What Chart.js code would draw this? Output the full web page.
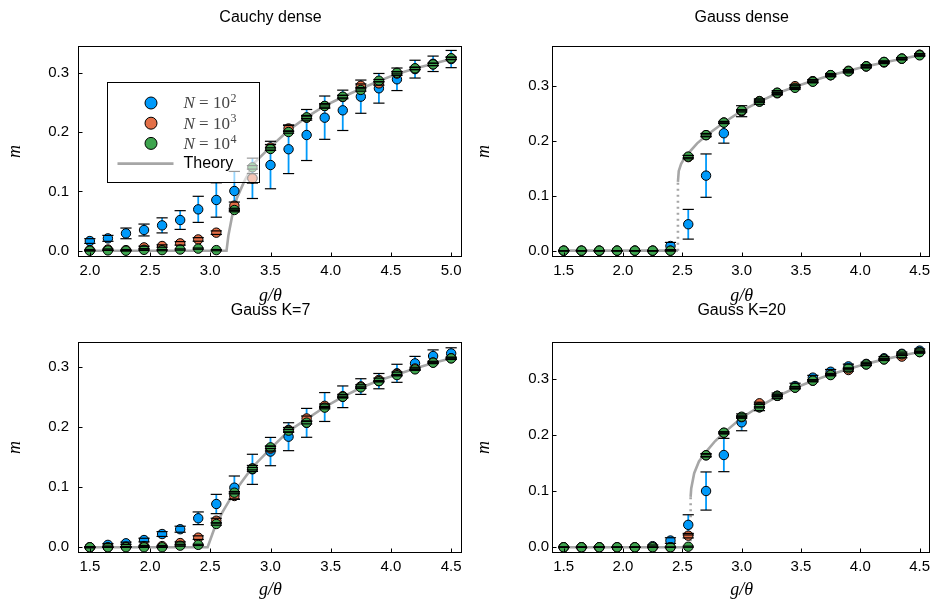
<!DOCTYPE html>
<html>
<head>
<meta charset="utf-8">
<script src="https://cdn.jsdelivr.net/npm/chart.js@4.4.0/dist/chart.umd.min.js"></script>
<style>
  body { margin: 0; background: #fff; }
  #figure { position: relative; width: 936px; height: 601px; overflow: hidden; }
  .panel { position: absolute; }
</style>
</head>
<body>
<div id="figure"></div>
<script>
// g/theta grids of the simulations
const G_CAUCHY = [2.0, 2.15, 2.3, 2.45, 2.6, 2.75, 2.9, 3.05, 3.2, 3.35, 3.5, 3.65, 3.8, 3.95, 4.1, 4.25, 4.4, 4.55, 4.7, 4.85, 5.0];
const G_GAUSS = [1.5, 1.65, 1.8, 1.95, 2.1, 2.25, 2.4, 2.55, 2.7, 2.85, 3.0, 3.15, 3.3, 3.45, 3.6, 3.75, 3.9, 4.05, 4.2, 4.35, 4.5];

// Cauchy dense
const CAUCHY_N2 = [0.0163, 0.0208, 0.0292, 0.0349, 0.0427, 0.0517, 0.0697, 0.0855, 0.1006, 0.122, 0.1444, 0.171, 0.195, 0.2242, 0.2366, 0.2596, 0.2737, 0.2889, 0.306, 0.315, 0.323];
const CAUCHY_N2_ERR = [0.004, 0.005, 0.009, 0.01, 0.0127, 0.0158, 0.022, 0.029, 0.033, 0.034, 0.04, 0.041, 0.043, 0.0365, 0.034, 0.028, 0.025, 0.019, 0.015, 0.013, 0.0145];
const CAUCHY_N3 = [0.001, 0.002, 0.001, 0.0056, 0.0079, 0.0124, 0.019, 0.0304, 0.076, 0.122, 0.174, 0.206, 0.224, 0.244, 0.259, 0.278, 0.282, 0.2985, 0.307, 0.314, 0.324];
const CAUCHY_N3_ERR = [0.001, 0.001, 0.001, 0.002, 0.002, 0.003, 0.003, 0.003, 0.006, 0.008, 0.005, 0.005, 0.004, 0.004, 0.003, 0.003, 0.003, 0.003, 0.002, 0.002, 0.002];
const CAUCHY_N4 = [0.0, 0.0005, 0.0, 0.0015, 0.001, 0.002, 0.0035, 0.001, 0.0686, 0.1405, 0.1714, 0.2, 0.2248, 0.2439, 0.2596, 0.2709, 0.2865, 0.3, 0.3074, 0.314, 0.3243];
const CAUCHY_N4_ERR = [0, 0, 0, 0.001, 0.001, 0.001, 0.001, 0.001, 0.003, 0.003, 0.002, 0.002, 0.002, 0.002, 0.002, 0.002, 0.002, 0.002, 0.002, 0.002, 0.002];
const CAUCHY_THEORY_G = [2.0, 3.135, 3.15, 3.18, 3.22, 3.28, 3.36, 3.5, 3.65, 3.8, 3.95, 4.1, 4.25, 4.4, 4.55, 4.7, 4.85, 5.0];
const CAUCHY_THEORY_M = [0, 0, 0.025, 0.057, 0.088, 0.116, 0.147, 0.175, 0.203, 0.225, 0.244, 0.259, 0.273, 0.286, 0.298, 0.307, 0.315, 0.323];

// Gauss dense
const GDENSE_N2 = [0, 0, 0, 0, 0, 0, 0.0085, 0.048, 0.1364, 0.2134, 0.2535, 0.271, 0.287, 0.297, 0.308, 0.319, 0.326, 0.335, 0.343, 0.349, 0.356];
const GDENSE_N2_ERR = [0, 0, 0, 0, 0, 0, 0.0065, 0.027, 0.0394, 0.018, 0.01, 0.005, 0.004, 0.004, 0.003, 0.003, 0.003, 0.003, 0.002, 0.002, 0.002];
const GDENSE_N3 = [0, 0, 0, 0, 0, 0, 0, 0.17, 0.21, 0.233, 0.254, 0.272, 0.286, 0.299, 0.308, 0.319, 0.327, 0.335, 0.342, 0.349, 0.356];
const GDENSE_N3_ERR = [0, 0, 0, 0, 0, 0, 0, 0.003, 0.003, 0.002, 0.002, 0.002, 0.002, 0.002, 0.002, 0.002, 0.002, 0.002, 0.002, 0.002, 0.002];
const GDENSE_N4 = [0, 0, 0, 0, 0, 0, 0, 0.171, 0.21, 0.2327, 0.255, 0.271, 0.287, 0.296, 0.307, 0.319, 0.326, 0.335, 0.343, 0.349, 0.355];
const GDENSE_N4_ERR = [0, 0, 0, 0, 0, 0, 0, 0.002, 0.002, 0.001, 0.001, 0.001, 0.001, 0.001, 0.001, 0.001, 0.001, 0.001, 0.001, 0.001, 0.001];
const GDENSE_THEORY_G = [1.5, 2.463, 2.463, 2.47, 2.49, 2.52, 2.55, 2.625, 2.7, 2.85, 3.0, 3.15, 3.3, 3.45, 3.6, 3.75, 3.9, 4.05, 4.2, 4.35, 4.5];
const GDENSE_THEORY_M = [0, 0, 0.125, 0.145, 0.158, 0.169, 0.177, 0.195, 0.209, 0.233, 0.254, 0.271, 0.286, 0.298, 0.309, 0.319, 0.327, 0.335, 0.342, 0.349, 0.355];

// Gauss K=7
const K7_N2 = [0, 0.004, 0.0066, 0.012, 0.022, 0.03, 0.0482, 0.0719, 0.099, 0.1295, 0.159, 0.1837, 0.2067, 0.233, 0.25, 0.267, 0.276, 0.289, 0.3055, 0.3177, 0.322];
const K7_N2_ERR = [0.001, 0.002, 0.002, 0.003, 0.004, 0.005, 0.0105, 0.016, 0.0194, 0.025, 0.0235, 0.0232, 0.024, 0.024, 0.018, 0.013, 0.0127, 0.015, 0.0116, 0.0102, 0.0094];
const K7_N3 = [0, 0, 0.001, 0.002, 0.002, 0.007, 0.016, 0.0442, 0.0852, 0.131, 0.164, 0.195, 0.214, 0.235, 0.251, 0.267, 0.278, 0.288, 0.297, 0.307, 0.314];
const K7_N3_ERR = [0, 0, 0, 0.001, 0.001, 0.002, 0.003, 0.004, 0.005, 0.005, 0.004, 0.004, 0.004, 0.003, 0.003, 0.003, 0.003, 0.003, 0.002, 0.002, 0.002];
const K7_N4 = [0, 0, 0, 0, 0, 0.0027, 0.004, 0.0387, 0.0907, 0.1306, 0.166, 0.1937, 0.207, 0.232, 0.25, 0.2656, 0.276, 0.286, 0.2955, 0.3066, 0.3138];
const K7_N4_ERR = [0, 0, 0, 0, 0, 0.001, 0.001, 0.002, 0.002, 0.002, 0.002, 0.002, 0.002, 0.002, 0.001, 0.001, 0.001, 0.001, 0.001, 0.001, 0.001];
const K7_THEORY_G = [1.5, 2.478, 2.53, 2.6, 2.7, 2.85, 3.0, 3.15, 3.3, 3.45, 3.6, 3.75, 3.9, 4.05, 4.2, 4.35, 4.5];
const K7_THEORY_M = [0, 0, 0.029, 0.058, 0.092, 0.133, 0.164, 0.193, 0.213, 0.233, 0.25, 0.265, 0.277, 0.287, 0.297, 0.306, 0.314];

// Gauss K=20
const K20_N2 = [0, 0, 0, 0, 0, 0.002, 0.012, 0.04, 0.1003, 0.1645, 0.2228, 0.2496, 0.27, 0.2875, 0.3025, 0.313, 0.3225, 0.327, 0.337, 0.345, 0.3506];
const K20_N2_ERR = [0, 0, 0, 0, 0, 0.002, 0.005, 0.018, 0.034, 0.0297, 0.015, 0.006, 0.005, 0.005, 0.004, 0.004, 0.004, 0.003, 0.003, 0.003, 0.003];
const K20_N3 = [0, 0, 0, 0, 0, 0, 0, 0.0207, 0.164, 0.204, 0.232, 0.2567, 0.27, 0.2846, 0.297, 0.308, 0.316, 0.326, 0.335, 0.34, 0.348];
const K20_N3_ERR = [0, 0, 0, 0, 0, 0, 0, 0.004, 0.003, 0.002, 0.002, 0.002, 0.002, 0.002, 0.002, 0.002, 0.002, 0.002, 0.002, 0.002, 0.002];
const K20_N4 = [0, 0, 0, 0, 0, 0, 0, 0.001, 0.164, 0.2043, 0.2328, 0.2496, 0.27, 0.2846, 0.297, 0.307, 0.319, 0.326, 0.335, 0.344, 0.348];
const K20_N4_ERR = [0, 0, 0, 0, 0, 0, 0, 0.001, 0.002, 0.001, 0.001, 0.001, 0.001, 0.001, 0.001, 0.001, 0.001, 0.001, 0.001, 0.001, 0.001];
const K20_THEORY_G = [1.5, 2.57, 2.57, 2.575, 2.6, 2.64, 2.7, 2.775, 2.85, 3.0, 3.15, 3.3, 3.45, 3.6, 3.75, 3.9, 4.05, 4.2, 4.35, 4.5];
const K20_THEORY_M = [0, 0, 0.09, 0.105, 0.132, 0.153, 0.17, 0.189, 0.204, 0.231, 0.251, 0.269, 0.284, 0.297, 0.308, 0.318, 0.327, 0.335, 0.342, 0.348];

// tick labels
const X_TICKS_CAUCHY = [2.0, 2.5, 3.0, 3.5, 4.0, 4.5, 5.0];
const X_TICKS_GAUSS = [1.5, 2.0, 2.5, 3.0, 3.5, 4.0, 4.5];
const Y_TICKS = [0.0, 0.1, 0.2, 0.3];

const SERIES_LABELS = ["N = 10\u00b2", "N = 10\u00b3", "N = 10\u2074", "Theory"];
const COLORS = ["#009AFA", "#E36F47", "#3EA44E", "#a6a6a6"];

const SANS = "'Liberation Sans', Arial, sans-serif";
const SERIF = "'Liberation Serif', 'Times New Roman', serif";
const SUPERSCRIPTS = { "\u00b2": "2", "\u00b3": "3", "\u2074": "4" };

Chart.defaults.color = "#000";
Chart.defaults.font.family = SANS;

/*********************************/
// error bars: the colored stem goes under the markers, the black caps on top
const errorbars = {
    id: "errorbars",
    beforeDatasetDraw(chart, args) {
        const ds = chart.data.datasets[args.index];
        if (!ds.errors) return;
        const xs = chart.scales.x, ys = chart.scales.y, ctx = chart.ctx;
        ctx.save();
        ctx.strokeStyle = ds.pointBackgroundColor;
        ctx.lineWidth = 1.8;
        ds.data.forEach((p, i) => {
            const e = ds.errors[i];
            if (!e) return;
            const px = xs.getPixelForValue(p.x);
            ctx.beginPath();
            ctx.moveTo(px, ys.getPixelForValue(p.y - e));
            ctx.lineTo(px, ys.getPixelForValue(p.y + e));
            ctx.stroke();
        });
        ctx.restore();
    },
    afterDatasetsDraw(chart) {
        const xs = chart.scales.x, ys = chart.scales.y, ctx = chart.ctx;
        ctx.save();
        ctx.strokeStyle = "#000";
        ctx.lineWidth = 1.2;
        chart.data.datasets.forEach(ds => {
            if (!ds.errors) return;
            ds.data.forEach((p, i) => {
                const e = ds.errors[i];
                const px = xs.getPixelForValue(p.x);
                [p.y - e, p.y + e].forEach(v => {
                    const py = ys.getPixelForValue(v);
                    ctx.beginPath();
                    ctx.moveTo(px - 5.6, py);
                    ctx.lineTo(px + 5.6, py);
                    ctx.stroke();
                });
            });
        });
        ctx.restore();
    }
};

// box frame with inward ticks (like the GR backend)
const frame = {
    id: "frame",
    afterDatasetsDraw(chart) {
        const a = chart.chartArea, ctx = chart.ctx;
        const xs = chart.scales.x, ys = chart.scales.y;
        ctx.save();
        ctx.strokeStyle = "#000";
        ctx.lineWidth = 1;
        const l = Math.round(a.left) - 0.5, r = Math.round(a.right) - 0.5;
        const t = Math.round(a.top) + 0.5, b = Math.round(a.bottom) - 0.5;
        ctx.strokeRect(l, t, r - l, b - t);
        ctx.beginPath();
        xs.ticks.forEach(tk => {
            const px = Math.round(xs.getPixelForValue(tk.value)) + 0.5;
            ctx.moveTo(px, b);
            ctx.lineTo(px, b - 4);
        });
        ys.ticks.forEach(tk => {
            const py = Math.round(ys.getPixelForValue(tk.value)) + 0.5;
            ctx.moveTo(l, py);
            ctx.lineTo(l + 4, py);
        });
        ctx.stroke();
        ctx.restore();
    }
};

// legend drawn on top of the data with a see-through white background
const legend_box = {
    id: "legendBox",
    afterDraw(chart) {
        const a = chart.chartArea, ctx = chart.ctx;
        const x0 = Math.round(a.left) + 28.5, y0 = Math.round(a.top) + 36.5;
        ctx.save();
        ctx.fillStyle = "rgba(255,255,255,0.6)";
        ctx.fillRect(x0, y0, 152, 100);
        ctx.strokeStyle = "#000";
        ctx.lineWidth = 1;
        ctx.strokeRect(x0, y0, 152, 100);
        ctx.textBaseline = "middle";
        chart.data.datasets.forEach((ds, i) => {
            const cy = y0 + 20.5 + i * 20.2;
            const tx = x0 + 76;
            if (ds.errors) {
                ctx.beginPath();
                ctx.arc(x0 + 43.5, cy, 6, 0, 2 * Math.PI);
                ctx.fillStyle = ds.pointBackgroundColor;
                ctx.fill();
                ctx.strokeStyle = "#000";
                ctx.stroke();
                // "N = 10^k" in a LaTeX-like style
                const parts = ds.label.split(" = ");
                ctx.fillStyle = "#444";
                ctx.font = "italic 17px " + SERIF;
                ctx.fillText(parts[0], tx, cy + 1);
                let x = tx + ctx.measureText(parts[0]).width;
                ctx.font = "17px " + SERIF;
                const base = " = " + parts[1].slice(0, 2);
                ctx.fillText(base, x, cy + 1);
                x += ctx.measureText(base).width + 0.5;
                ctx.font = "12px " + SERIF;
                const sup = parts[1].slice(2);
                ctx.fillText(SUPERSCRIPTS[sup] || sup, x, cy - 4);
            } else {
                ctx.beginPath();
                ctx.moveTo(x0 + 10, cy);
                ctx.lineTo(x0 + 66, cy);
                ctx.strokeStyle = ds.borderColor;
                ctx.lineWidth = 2.8;
                ctx.stroke();
                ctx.fillStyle = "#000";
                ctx.font = "16px " + SANS;
                ctx.fillText(ds.label, tx, cy);
            }
        });
        ctx.restore();
    }
};

/*********************************/
const figure = document.getElementById("figure");

function points(xs, ys) {
    return xs.map((x, i) => ({ x: x, y: ys[i] }));
}

function marker_set(label, color, xs, ys, errs, order) {
    return {
        label: label,
        data: points(xs, ys),
        errors: errs,
        order: order,
        pointRadius: 4.7,
        pointBorderWidth: 1,
        pointBorderColor: "#000",
        pointBackgroundColor: color,
        showLine: false
    };
}

function add_panel(p) {
    const wrap = document.createElement("div");
    wrap.className = "panel";
    wrap.style.left = p.left + "px";
    wrap.style.top = p.top + "px";
    figure.appendChild(wrap);

    const canvas = document.createElement("canvas");
    canvas.width = p.width;
    canvas.height = p.height;
    canvas.style.width = p.width + "px";
    canvas.style.height = p.height + "px";
    wrap.appendChild(canvas);

    const datasets = [
        marker_set(SERIES_LABELS[0], COLORS[0], p.g, p.n2, p.n2err, 3),
        marker_set(SERIES_LABELS[1], COLORS[1], p.g, p.n3, p.n3err, 2),
        marker_set(SERIES_LABELS[2], COLORS[2], p.g, p.n4, p.n4err, 1),
        {
            label: SERIES_LABELS[3],
            data: points(p.theoryG, p.theoryM),
            order: 10,
            showLine: true,
            pointRadius: 0,
            borderColor: COLORS[3],
            borderWidth: 2.6,
            tension: 0,
            segment: {
                // the vertical jump of a discontinuous transition is dotted
                borderDash: ctx => ctx.p0.parsed.x === ctx.p1.parsed.x ? [2, 4] : undefined
            }
        }
    ];

    const plugins = [errorbars, frame];
    if (p.legend) plugins.push(legend_box);

    new Chart(canvas, {
        type: "scatter",
        data: { datasets: datasets },
        plugins: plugins,
        options: {
            responsive: false,
            animation: false,
            devicePixelRatio: 1,
            events: [],
            layout: { padding: { left: 0, right: p.width - p.area.right, top: 0, bottom: 0 } },
            plugins: {
                legend: { display: false },
                tooltip: { enabled: false },
                title: {
                    display: true,
                    text: p.title,
                    fullSize: false,
                    font: { size: 16, weight: "normal", family: SANS },
                    padding: { top: p.titleTop, bottom: p.area.top - p.titleTop - 19.2 }
                }
            },
            scales: {
                x: {
                    type: "linear",
                    min: p.xmin,
                    max: p.xmax,
                    grid: { display: false, drawTicks: false },
                    border: { display: false },
                    afterBuildTicks: s => { s.ticks = p.xticks.map(v => ({ value: v })); },
                    afterFit: s => { s.height = p.height - p.area.bottom; },
                    ticks: {
                        autoSkip: false,
                        maxRotation: 0,
                        padding: 4.5,
                        font: { size: 15 },
                        callback: v => v.toFixed(1)
                    },
                    title: {
                        display: true,
                        text: "g/\u03b8",
                        font: { size: 18, style: "italic", family: SERIF },
                        padding: { top: 0, bottom: p.xTitlePad }
                    }
                },
                y: {
                    type: "linear",
                    min: p.ymin,
                    max: p.ymax,
                    grid: { display: false, drawTicks: false },
                    border: { display: false },
                    afterBuildTicks: s => { s.ticks = Y_TICKS.map(v => ({ value: v })); },
                    afterFit: s => { s.width = p.area.left; },
                    ticks: {
                        autoSkip: false,
                        padding: p.yTickPad,
                        font: { size: 15 },
                        callback: v => v.toFixed(1)
                    },
                    title: {
                        display: true,
                        text: "m",
                        font: { size: 18, style: "italic", family: SERIF },
                        padding: { top: p.yTitlePad, bottom: 0 }
                    }
                }
            }
        }
    });
}

add_panel({
    title: "Cauchy dense", legend: true,
    left: 0, top: 0, width: 468, height: 310,
    area: { left: 79, right: 462, top: 46, bottom: 257 },
    xmin: 1.91, xmax: 5.09, ymin: -0.0106, ymax: 0.345,
    xticks: X_TICKS_CAUCHY, yTickPad: 10, yTitlePad: 4.2, xTitlePad: 2.5, titleTop: 8.4,
    g: G_CAUCHY, n2: CAUCHY_N2, n2err: CAUCHY_N2_ERR, n3: CAUCHY_N3, n3err: CAUCHY_N3_ERR,
    n4: CAUCHY_N4, n4err: CAUCHY_N4_ERR, theoryG: CAUCHY_THEORY_G, theoryM: CAUCHY_THEORY_M
});

add_panel({
    title: "Gauss dense",
    left: 468, top: 0, width: 468, height: 310,
    area: { left: 85, right: 467, top: 46, bottom: 257 },
    xmin: 1.41, xmax: 4.59, ymin: -0.0115, ymax: 0.372,
    xticks: X_TICKS_GAUSS, yTickPad: 4, yTitlePad: 5.2, xTitlePad: 2.5, titleTop: 8.4,
    g: G_GAUSS, n2: GDENSE_N2, n2err: GDENSE_N2_ERR, n3: GDENSE_N3, n3err: GDENSE_N3_ERR,
    n4: GDENSE_N4, n4err: GDENSE_N4_ERR, theoryG: GDENSE_THEORY_G, theoryM: GDENSE_THEORY_M
});

add_panel({
    title: "Gauss K=7",
    left: 0, top: 290, width: 468, height: 311,
    area: { left: 79, right: 462, top: 52, bottom: 263 },
    xmin: 1.41, xmax: 4.59, ymin: -0.0095, ymax: 0.341,
    xticks: X_TICKS_GAUSS, yTickPad: 10, yTitlePad: 4.2, xTitlePad: 0.2, titleTop: 10.6,
    g: G_GAUSS, n2: K7_N2, n2err: K7_N2_ERR, n3: K7_N3, n3err: K7_N3_ERR,
    n4: K7_N4, n4err: K7_N4_ERR, theoryG: K7_THEORY_G, theoryM: K7_THEORY_M
});

add_panel({
    title: "Gauss K=20",
    left: 468, top: 290, width: 468, height: 311,
    area: { left: 85, right: 467, top: 52, bottom: 263 },
    xmin: 1.41, xmax: 4.59, ymin: -0.0102, ymax: 0.366,
    xticks: X_TICKS_GAUSS, yTickPad: 4, yTitlePad: 5.2, xTitlePad: 0.2, titleTop: 10.6,
    g: G_GAUSS, n2: K20_N2, n2err: K20_N2_ERR, n3: K20_N3, n3err: K20_N3_ERR,
    n4: K20_N4, n4err: K20_N4_ERR, theoryG: K20_THEORY_G, theoryM: K20_THEORY_M
});
</script>
</body>
</html>
